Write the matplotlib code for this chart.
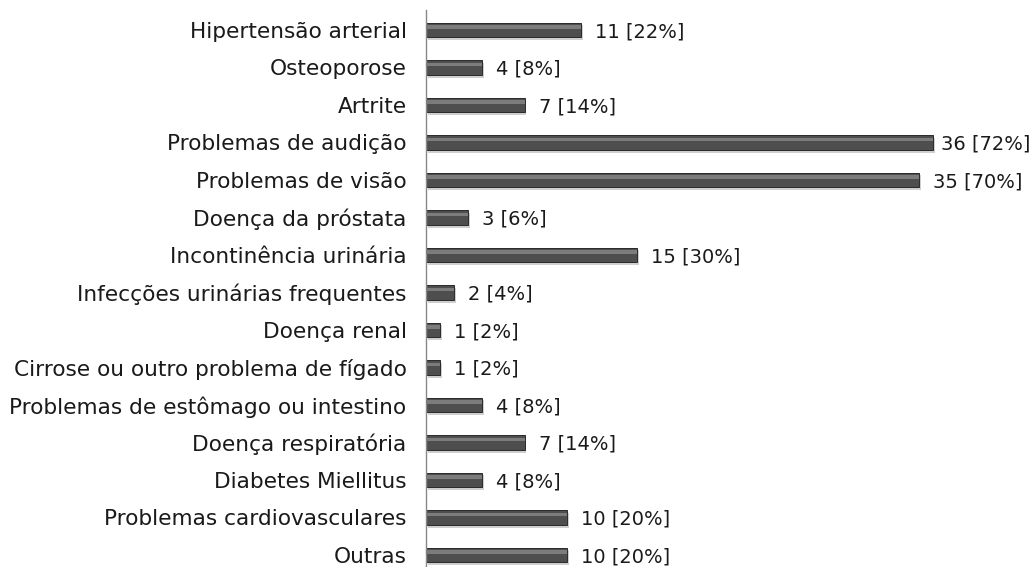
import matplotlib.pyplot as plt

# data (top to bottom)
categories = ["Hipertensão arterial", "Osteoporose", "Artrite", "Problemas de audição",
              "Problemas de visão", "Doença da próstata", "Incontinência urinária",
              "Infecções urinárias frequentes", "Doença renal",
              "Cirrose ou outro problema de fígado", "Problemas de estômago ou intestino",
              "Doença respiratória", "Diabetes Miellitus", "Problemas cardiovasculares", "Outras"]
counts = [11, 4, 7, 36, 35, 3, 15, 2, 1, 1, 4, 7, 4, 10, 10]
percents = [22, 8, 14, 72, 70, 6, 30, 4, 2, 2, 8, 14, 8, 20, 20]

fig = plt.figure(figsize=(10.32, 5.67), dpi=100)
ax = fig.add_axes([426 / 1032, 0, 1 - 426 / 1032, 557 / 567])
xmax = 43

ypos = list(range(len(categories)))
# shadow, body, highlight to fake the bevelled look
ax.barh([y + 0.07 for y in ypos], counts, height=0.4, left=0.12, color="#cfcfcf", zorder=1)
ax.barh(ypos, counts, height=0.38, color="#4e4e4e", edgecolor="#2a2a2a", linewidth=0.7, zorder=2)
ax.barh([y - 0.08 for y in ypos], counts, height=0.1, color="#7c7c7c", linewidth=0, zorder=3)

ax.set_xlim(0, xmax)
ax.set_ylim(14.32, -0.53)

fig.canvas.draw()
r = fig.canvas.get_renderer()
for y, c, p in zip(ypos, counts, percents):
    t = ax.text(c + 1.0, y + 0.05, f"{c} [{p}%]", va="center", ha="left", fontsize=14, color="#1a1a1a")
    # like Excel, pull the label back in if it runs off the right edge
    if t.get_window_extent(r).x1 > fig.bbox.width - 2:
        t.set_x(xmax - 0.1)
        t.set_ha("right")

ax.set_yticks(ypos)
ax.set_yticklabels(categories, fontsize=15.6, color="#1a1a1a")
ax.tick_params(axis="y", length=0, pad=14)
ax.set_xticks([])
for s in ["top", "right", "bottom"]:
    ax.spines[s].set_visible(False)
ax.spines["left"].set_color("#888888")
ax.spines["left"].set_linewidth(1)

fig.savefig("out.png", dpi=100)
